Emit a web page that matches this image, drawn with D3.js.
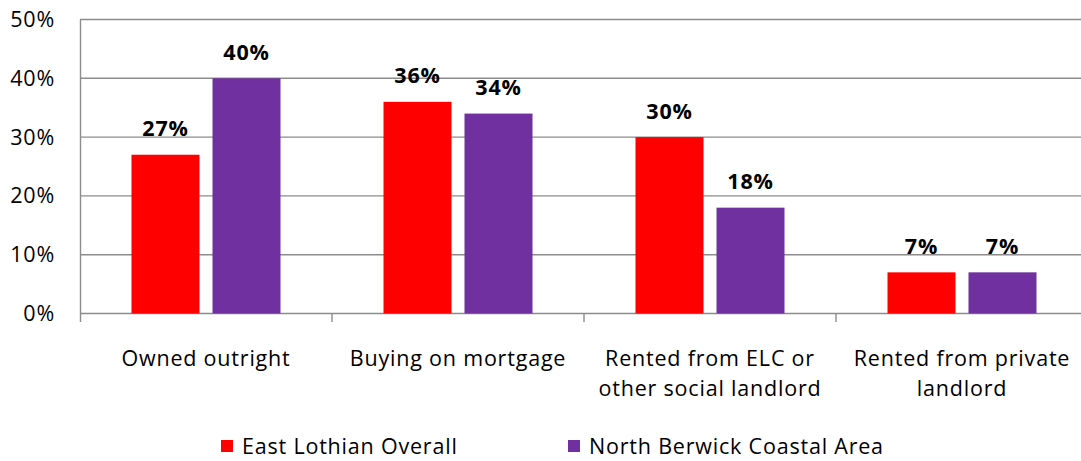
<!DOCTYPE html>
<html>
<head>
<meta charset="utf-8">
<script src="https://cdn.jsdelivr.net/npm/d3@7"></script>
<style>
  body { margin: 0; background: #fff; }
  text { font-family: "Open Sans", Lato, sans-serif; fill: #000; letter-spacing: 0.8px; }
</style>
</head>
<body>
<svg width="1081" height="461"></svg>
<script>
// data
const categories = [["Owned outright"], ["Buying on mortgage"], ["Rented from ELC or", "other social landlord"], ["Rented from private", "landlord"]];
const seriesNames = ["East Lothian Overall", "North Berwick Coastal Area"];
const eastLothian = [27, 36, 30, 7];
const northBerwick = [40, 34, 18, 7];
const yTicks = [0, 10, 20, 30, 40, 50];
const colors = ["#ff0000", "#7030a0"];

const values = [eastLothian, northBerwick];
const keys = categories.map(d => d.join(" "));
const fs = "21.5px";

var svg = d3.select("svg");

var x0 = d3.scaleBand().domain(keys).range([80, 1088]).padding(0);
var x1 = d3.scaleBand().domain(seriesNames).range([51.5, 200.5]).paddingInner(0.1605);
var y = d3.scaleLinear().domain([0, 50]).range([313.5, 19.5]);

// gridlines
svg.append("g")
  .selectAll("line")
  .data(yTicks)
  .join("line")
    .attr("x1", 80).attr("x2", 1088)
    .attr("y1", d => y(d)).attr("y2", d => y(d))
    .attr("stroke", "#8c8c8c")
    .attr("stroke-width", 1.4);

// y axis labels
svg.append("g")
  .selectAll("text")
  .data(yTicks)
  .join("text")
    .attr("x", 55)
    .attr("y", d => y(d) + 7.5)
    .attr("text-anchor", "end")
    .style("font-size", fs)
    .text(d => d + "%");

// bars
var groups = svg.append("g")
  .selectAll("g")
  .data(keys)
  .join("g")
    .attr("transform", d => `translate(${x0(d)},0)`);

groups.selectAll("rect")
  .data((d, i) => seriesNames.map((s, j) => ({s: s, v: values[j][i], c: colors[j]})))
  .join("rect")
    .attr("x", d => x1(d.s))
    .attr("width", x1.bandwidth())
    .attr("y", d => y(d.v))
    .attr("height", d => y(0) - y(d.v))
    .attr("fill", d => d.c);

groups.selectAll("text.lbl")
  .data((d, i) => seriesNames.map((s, j) => ({s: s, v: values[j][i]})))
  .join("text")
    .attr("class", "lbl")
    .attr("x", d => x1(d.s) + x1.bandwidth() / 2)
    .attr("y", d => y(d.v) - 18.5)
    .attr("text-anchor", "middle")
    .style("font-size", fs)
    .style("font-weight", "bold")
    .text(d => d.v + "%");

// axes lines
svg.append("line")
  .attr("x1", 80.5).attr("x2", 80.5).attr("y1", 19.5).attr("y2", 322)
  .attr("stroke", "#8c8c8c").attr("stroke-width", 1.4);

svg.append("g")
  .selectAll("line")
  .data(keys.slice(1))
  .join("line")
    .attr("x1", d => x0(d)).attr("x2", d => x0(d))
    .attr("y1", y(0)).attr("y2", 322)
    .attr("stroke", "#8c8c8c").attr("stroke-width", 1.4);

// category labels
groups.append("text")
  .attr("x", x0.bandwidth() / 2)
  .attr("y", 366)
  .attr("text-anchor", "middle")
  .style("font-size", fs)
  .selectAll("tspan")
  .data((d, i) => categories[i])
  .join("tspan")
    .attr("x", x0.bandwidth() / 2)
    .attr("dy", (d, i) => i ? 29.5 : 0)
    .text(d => d);

// legend
var legendX = [221, 568];
var legend = svg.append("g")
  .selectAll("g")
  .data(seriesNames)
  .join("g")
    .attr("transform", (d, i) => `translate(${legendX[i]},440)`);

legend.append("rect")
  .attr("width", 12).attr("height", 12)
  .attr("fill", (d, i) => colors[i]);

legend.append("text")
  .attr("x", 21).attr("y", 13.5)
  .style("font-size", fs)
  .text(d => d);
</script>
</body>
</html>
